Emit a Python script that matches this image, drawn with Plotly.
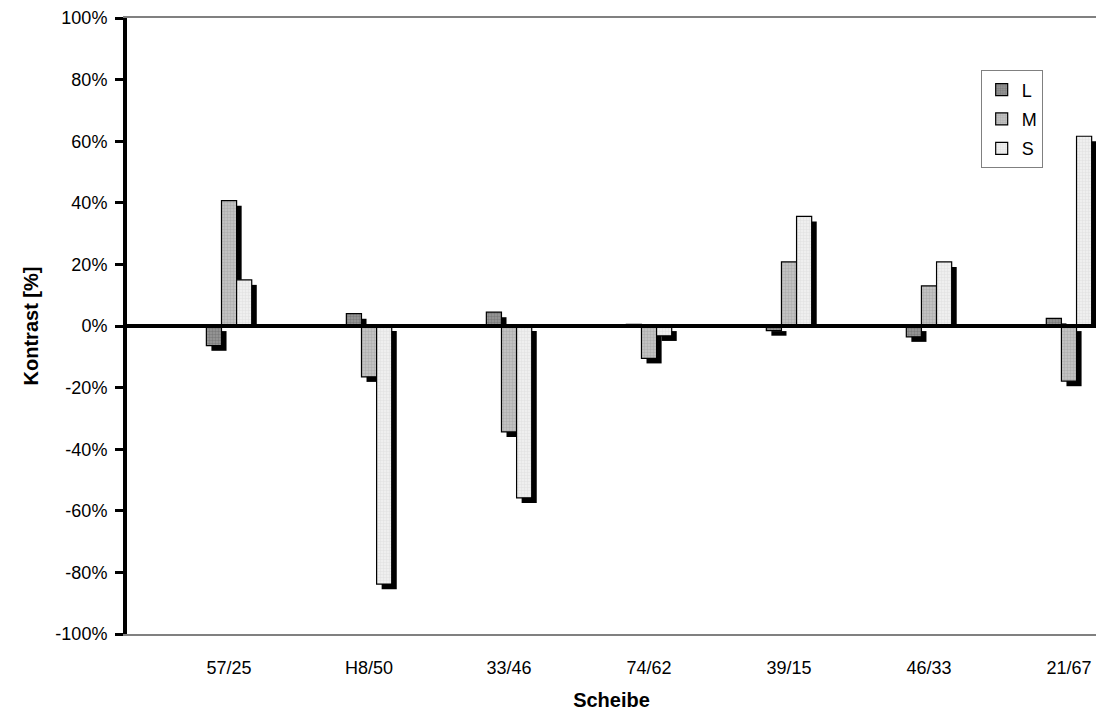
import plotly.graph_objects as go

categories = ["57/25", "H8/50", "33/46", "74/62", "39/15", "46/33", "21/67"]
series_names = ["L", "M", "S"]
L_values = [-6.4, 4.0, 4.5, 0.5, -1.5, -3.5, 2.5]
M_values = [40.7, -16.5, -34.4, -10.5, 20.8, 13.0, -17.9]
S_values = [15.0, -83.8, -55.8, -3.2, 35.6, 20.8, 61.6]
y_ticks = [-100, -80, -60, -40, -20, 0, 20, 40, 60, 80, 100]

values = [L_values, M_values, S_values]
fills = [("#5e5e5e", "#9a9a9a"), ("#959595", "#c8c8c8"), ("#d4d4d4", "#f2f2f2")]

bar_w = 0.108
offsets = [-1.5 * bar_w, -0.5 * bar_w, 0.5 * bar_w]
dx = 0.036  # shadow shift (x units)
dy = 1.65   # shadow shift (% units)

xs = list(range(len(categories)))
fig = go.Figure()

# shadows (clipped at the zero line for positive bars)
for vals, off in zip(values, offsets):
    bases = [0 if v > 0 else -dy for v in vals]
    tops = [max(v - dy, 0) if v > 0 else v for v in vals]
    fig.add_trace(go.Bar(
        x=xs, y=tops, base=bases, offset=off + dx, width=bar_w,
        marker=dict(color="black", line=dict(width=0)),
        showlegend=False, hoverinfo="skip"))

# bars
for name, vals, off, (fg, bg) in zip(series_names, values, offsets, fills):
    fig.add_trace(go.Bar(
        x=xs, y=vals, offset=off, width=bar_w, name=name, legendgroup=name,
        marker=dict(color=bg, line=dict(color="black", width=1.2),
                    pattern=dict(shape=".", fgcolor=fg, bgcolor=bg,
                                 size=3, solidity=0.5, fillmode="overlay"))))

x_lo = -0.729
x_hi = 6.193

fig.add_shape(type="line", xref="x", yref="y", x0=x_lo, x1=x_hi, y0=0, y1=0,
              line=dict(color="black", width=4), layer="above")

fig.update_layout(
    width=1096, height=716,
    margin=dict(l=127, r=0, t=18, b=82),
    plot_bgcolor="white", paper_bgcolor="white",
    barmode="overlay",
    font=dict(family="Liberation Sans, Arial, sans-serif", size=18, color="black"),
    showlegend=True,
    legend=dict(x=0.881, y=0.915, xanchor="left", yanchor="top",
                bordercolor="#808080", borderwidth=1, bgcolor="white",
                font=dict(size=18), itemwidth=30, tracegroupgap=3),
    xaxis=dict(range=[x_lo, x_hi], tickmode="array", tickvals=xs, ticktext=categories,
               showgrid=False, zeroline=False, showline=True, linecolor="#808080",
               linewidth=2, mirror=True, ticks="", ticklabelstandoff=16,
               title=dict(text="<b>Scheibe</b>", font=dict(size=20), standoff=16)),
    yaxis=dict(range=[-100, 100], tickmode="array", tickvals=y_ticks,
               ticktext=[f"{v}%" for v in y_ticks],
               showgrid=False, zeroline=False, showline=True, linecolor="black",
               linewidth=4, ticks="outside", ticklen=8, tickwidth=3, tickcolor="black",
               ticklabelstandoff=4,
               title=dict(text="<b>Kontrast [%]</b>", font=dict(size=20), standoff=12)),
)

fig.write_html("out.html")
